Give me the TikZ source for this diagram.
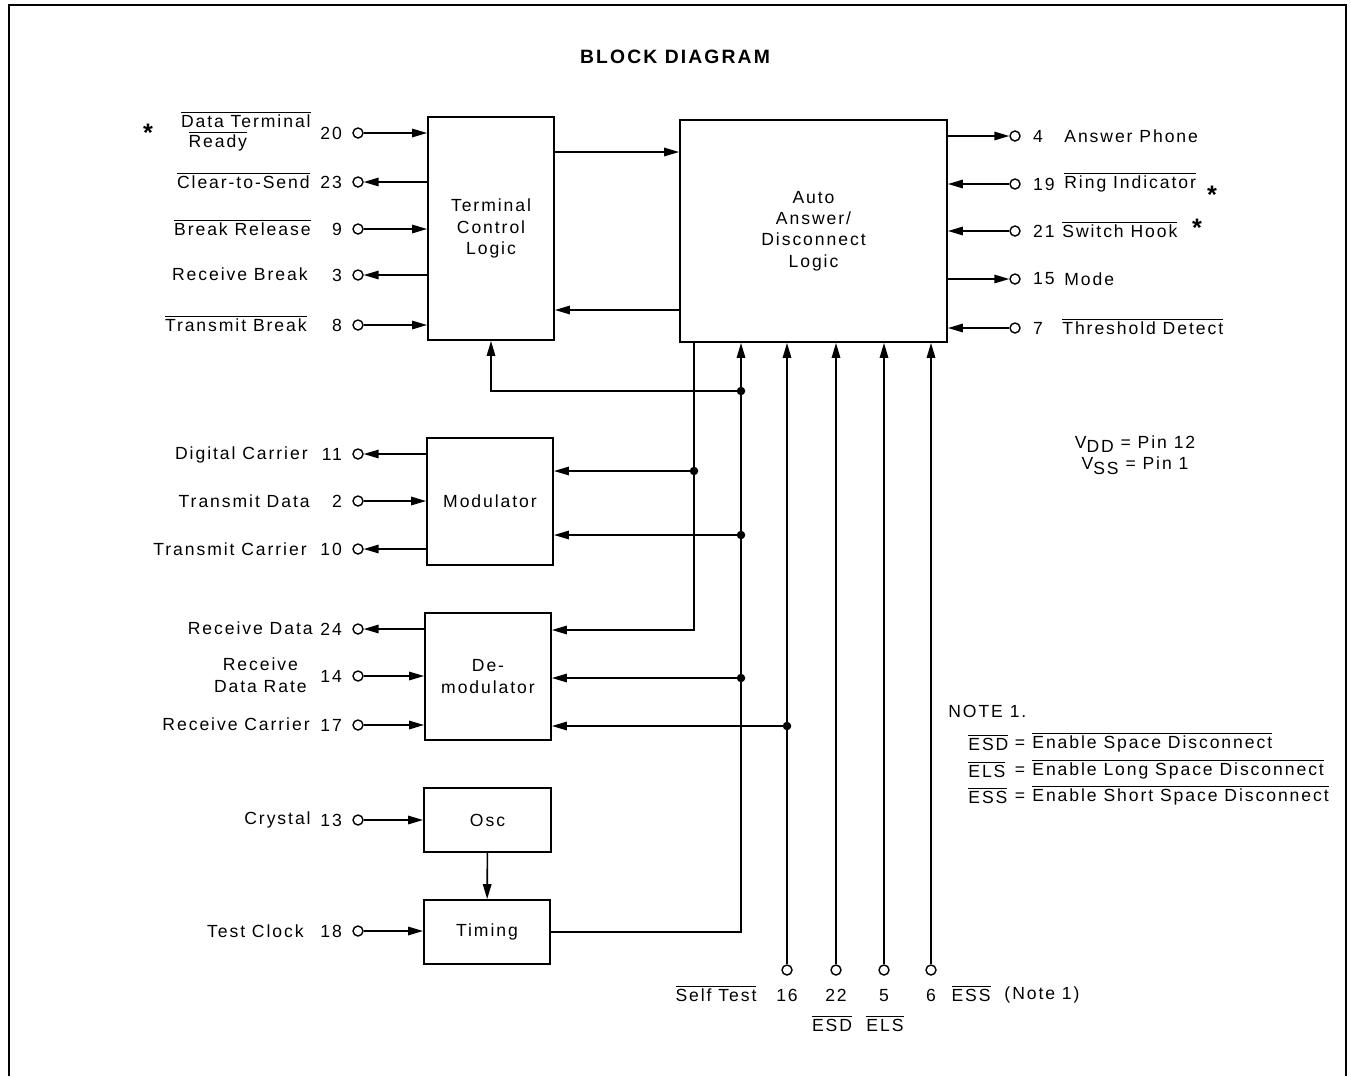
\documentclass[tikz,border=0pt]{standalone}
\usepackage{fontspec}
\setmainfont{Liberation Sans}[LetterSpace=11]
\usetikzlibrary{arrows.meta}
\newcommand{\pinfont}{\fontsize{10pt}{12.2pt}\selectfont}
\newcommand{\ovl}[1]{\smash{$\overline{\mbox{#1}}$}\vphantom{#1}}
\begin{document}
\begin{tikzpicture}[x=0.02cm, y=-0.02cm,
    blk/.style={draw, line width=1.1pt, inner sep=0pt, align=center, font=\pinfont},
    pin/.style={draw, circle, line width=0.8pt, minimum size=0.2cm, inner sep=0pt},
    lbl/.style={font=\pinfont, inner sep=0pt},
    sig/.style={line width=0.9pt},
    ain/.style={-{Triangle[length=0.3cm, width=0.17cm]}},
    aout/.style={{Triangle[length=0.3cm, width=0.17cm]}-},
    dot/.style={fill, circle, minimum size=0.17cm, inner sep=0pt}]
    \useasboundingbox (0,0) rectangle (1351,1076);
    % frame
    \draw[line width=1.3pt] (9,1076) -- (9,5) -- (1346,5) -- (1346,1076);
    \node[font=\fontsize{11pt}{13pt}\selectfont\bfseries] (title) at (675,57) {BLOCK DIAGRAM};

    % blocks
    \node[blk, minimum width=2.52cm, minimum height=4.46cm] (tcl) at (491,228.5) {Terminal\\Control\\Logic};
    \node[blk, minimum width=5.34cm, minimum height=4.44cm] (auto) at (813.5,231) {Auto\\Answer/\\Disconnect\\Logic};
    \node[blk, minimum width=2.52cm, minimum height=2.54cm] (mod) at (490,501.5) {Modulator};
    \node[blk, minimum width=2.52cm, minimum height=2.54cm] (dem) at (488,676.5) {De-\\modulator};
    \node[blk, minimum width=2.54cm, minimum height=1.28cm] (osc) at (487.5,820) {Osc};
    \node[blk, minimum width=2.52cm, minimum height=1.28cm] (tim) at (487,932) {Timing};

    % left pins
    \foreach \n/\yy/\dir/\tgt in {20/133/ain/tcl, 23/182/aout/tcl, 9/229/ain/tcl, 3/275/aout/tcl, 8/325/ain/tcl,
        11/454/aout/mod, 2/501/ain/mod, 10/549/aout/mod,
        24/629/aout/dem, 14/676/ain/dem, 17/725/ain/dem,
        13/820/ain/osc, 18/931/ain/tim} {
        \node[pin, label={[lbl, label distance=0.2cm]left:\n}] (p\n) at (358,\yy) {};
        \draw[sig, \dir] (p\n) -- (p\n -| \tgt.west);
    }
    \node[lbl, anchor=east, align=left] (n20) at (311,133) {\ovl{Data Terminal}\\[-1pt]\hspace{0.15cm}\ovl{Ready}};
    \node[lbl, anchor=east] (n23) at (310,182) {\ovl{Clear-to-Send}};
    \node[lbl, anchor=east] (n9) at (311,229) {\ovl{Break Release}};
    \node[lbl, anchor=east] (n3) at (308,274) {Receive Break};
    \node[lbl, anchor=east] (n8) at (307,325) {\ovl{Transmit Break}};
    \node[lbl, anchor=east] (n11) at (308,455) {Digital Carrier};
    \node[lbl, anchor=east] (n2) at (310,501) {Transmit Data};
    \node[lbl, anchor=east] (n10) at (307,549) {Transmit Carrier};
    \node[lbl, anchor=east] (n24) at (313,628) {Receive Data};
    \node[lbl, anchor=east, align=center] (n14) at (307,675) {Receive\\Data Rate};
    \node[lbl, anchor=east] (n17) at (310,724) {Receive Carrier};
    \node[lbl, anchor=east] (n13) at (311,820) {Crystal};
    \node[lbl, anchor=east] (n18) at (304,931) {Test Clock};
    \node[font=\Large\bfseries] (st20) at (148,133) {*};

    % right pins
    \foreach \n/\yy/\dir in {4/136/aout, 19/184/ain, 21/231/ain, 15/279/aout, 7/328/ain} {
        \node[pin, label={[lbl, label distance=0.24cm]right:\n}] (p\n) at (1015,\yy) {};
        \draw[sig, \dir] (p\n) -- (p\n -| auto.east);
    }
    \node[lbl, anchor=west] (n4) at (1064,136) {Answer Phone};
    \node[lbl, anchor=west] (n19) at (1064,184) {\ovl{Ring Indicator}};
    \node[lbl, anchor=west] (n21) at (1062,231) {\ovl{Switch Hook}};
    \node[lbl, anchor=west] (n15) at (1064,279) {Mode};
    \node[lbl, anchor=west] (n7) at (1062,328) {\ovl{Threshold Detect}};
    \node[font=\Large\bfseries] (st19) at (1212,195) {*};
    \node[font=\Large\bfseries] (st21) at (1197,228) {*};

    % bottom pins
    \foreach \n/\xx in {16/787, 22/836, 5/884, 6/931} {
        \node[pin, label={[lbl, label distance=0.26cm]below:\n}] (p\n) at (\xx,970) {};
        \draw[sig, ain] (p\n) -- (p\n |- auto.south);
    }
    \node[lbl] (n16) at (716,995) {\ovl{Self Test}};
    \node[lbl] (n6) at (971,995) {\ovl{ESS}};
    \node[lbl] (note) at (1042,995) {(Note 1)};
    \node[lbl] (n22) at (832,1025) {\ovl{ESD}};
    \node[lbl] (n5) at (885,1025) {\ovl{ELS}};

    % busses
    \coordinate (j1) at (741,391);
    \coordinate (j2) at (741,535);
    \coordinate (j3) at (741,678);
    \coordinate (j4) at (694,471);
    \coordinate (j5) at (787,726);
    \coordinate (c1) at (694,630);
    \coordinate (ta) at (620,152);
    \coordinate (at) at (620,310);

    \draw[sig, ain] (ta -| tcl.east) -- (ta -| auto.west);
    \draw[sig, ain] (at -| auto.west) -- (at -| tcl.east);
    \draw[sig, ain] (osc) -- (tim);
    \draw[sig, ain] (tim.east) -- (tim.east -| j1) -- (j1 |- auto.south);
    \draw[sig, ain] (j1) -- (j1 -| tcl.south) -- (tcl.south);
    \draw[sig, ain] (j2) -- (j2 -| mod.east);
    \draw[sig, ain] (j3) -- (j3 -| dem.east);
    \draw[sig, ain] (j4 |- auto.south) -- (c1) -- (c1 -| dem.east);
    \draw[sig, ain] (j4) -- (j4 -| mod.east);
    \draw[sig, ain] (j5) -- (j5 -| dem.east);
    \foreach \j in {j1, j2, j3, j4, j5}
        \node[dot] (d\j) at (\j) {};

    % notes
    \node[lbl, align=center] (vdd) at (1135,455) {V\raisebox{-0.45ex}{DD} = Pin 12\\V\raisebox{-0.45ex}{SS} = Pin 1};
    \node[lbl, anchor=west] (note1) at (948,711) {NOTE 1.};
    \foreach \k/\yy/\txt in {ESD/744/Enable Space Disconnect, ELS/771/Enable Long Space Disconnect, ESS/797/Enable Short Space Disconnect} {
        \node[lbl, anchor=west] (a\k) at (968,\yy) {\ovl{\k}};
        \node[lbl] (e\k) at (1020,\yy) {=};
        \node[lbl, anchor=west] (d\k) at (1032,\yy) {\ovl{\txt}};
    }
\end{tikzpicture}
\end{document}
